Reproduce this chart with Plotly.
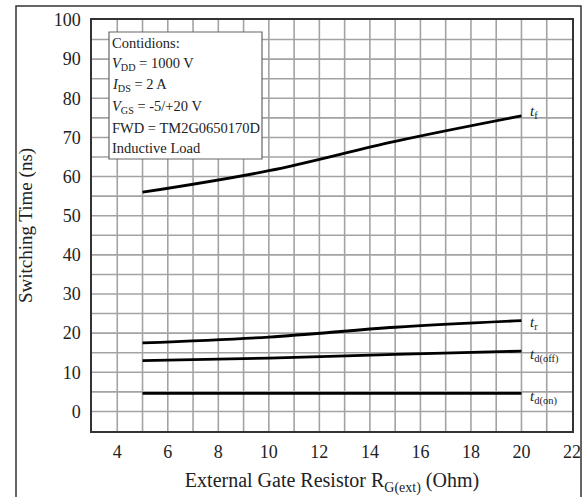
import plotly.graph_objects as go

# Data
rg = [5, 10, 15, 20]
t_f = [56, 61.5, 69, 75.5]
t_r = [17.5, 19, 21.5, 23.2]
t_doff = [13, 13.6, 14.6, 15.4]
t_don = [4.6, 4.6, 4.6, 4.6]
x_ticks = [4, 6, 8, 10, 12, 14, 16, 18, 20, 22]
y_ticks = [0, 10, 20, 30, 40, 50, 60, 70, 80, 90, 100]

W, H = 584, 497
L, R, T, B = 92, 12, 20, 66
PW, PH = W - L - R, H - T - B

def px(x):
    return (x - L) / PW

def py(y):
    return 1 - (y - T) / PH

FONT = "Liberation Serif, Times New Roman, serif"
GRID = "#a3a3a3"

fig = go.Figure()
for ys in [t_f, t_r, t_doff, t_don]:
    fig.add_trace(go.Scatter(x=rg, y=ys, mode="lines", line=dict(color="black", width=2.8, shape="spline"),
                             showlegend=False, hoverinfo="skip"))

fig.update_xaxes(range=[3, 22], tickvals=x_ticks, ticktext=[str(v) for v in x_ticks],
                 showgrid=False, showline=True, linecolor="#333", linewidth=1.5, mirror=True, zeroline=False,
                 ticks="", ticklabelstandoff=4, tickfont=dict(family=FONT, size=18, color="#222"),
                 title=dict(text="External Gate Resistor R<sub>G(ext)</sub> (Ohm)",
                            font=dict(family=FONT, size=20, color="#222"), standoff=12))
fig.update_yaxes(range=[-5, 100], tickvals=y_ticks, ticktext=[str(v) for v in y_ticks],
                 showgrid=False, showline=True, linecolor="#333", linewidth=1.5, mirror=True, zeroline=False,
                 ticks="", ticklabelstandoff=6, tickfont=dict(family=FONT, size=18, color="#222"),
                 title=dict(text="Switching Time (ns)", font=dict(family=FONT, size=19, color="#222"), standoff=16))

shapes = []
# vertical grid every 1, horizontal grid every 5
for xv in range(4, 22):
    shapes.append(dict(type="line", xref="x", yref="paper", x0=xv, x1=xv, y0=0, y1=1,
                       line=dict(color=GRID, width=1.6), layer="below"))
for yv in range(0, 100, 5):
    shapes.append(dict(type="line", xref="paper", yref="y", x0=0, x1=1, y0=yv, y1=yv,
                       line=dict(color=GRID, width=1.6), layer="below"))
# conditions box
shapes.append(dict(type="rect", xref="paper", yref="paper", x0=px(109), x1=px(262), y0=py(159), y1=py(32),
                   fillcolor="white", line=dict(color="#666", width=1.2), layer="above"))
# outer frame
shapes.append(dict(type="rect", xref="paper", yref="paper", x0=px(16), x1=px(581), y0=py(510), y1=py(6),
                   fillcolor="rgba(0,0,0,0)", line=dict(color="#333", width=1.5)))

annotations = []
cond_lines = [
    (43, "Contidions:"),
    (64, "<i>V</i><sub>DD</sub> = 1000 V"),
    (85, "<i>I</i><sub>DS</sub> = 2 A"),
    (107, "<i>V</i><sub>GS</sub> = -5/+20 V"),
    (128, "FWD = TM2G0650170D"),
    (148, "Inductive Load"),
]
for yy, txt in cond_lines:
    annotations.append(dict(xref="paper", yref="paper", x=px(110), y=py(yy), text=txt, showarrow=False,
                            xanchor="left", yanchor="middle", font=dict(family=FONT, size=14.5, color="#222")))

labels = [
    (t_f[-1], "<i>t</i><sub>f</sub>", 1.0),
    (t_r[-1], "<i>t</i><sub>r</sub>", -0.5),
    (t_doff[-1], "<i>t</i><sub>d(off)</sub>", -1.0),
    (t_don[-1], "<i>t</i><sub>d(on)</sub>", -1.0),
]
for yv, txt, dy in labels:
    annotations.append(dict(xref="x", yref="y", x=20.25, y=yv + dy, text=txt, showarrow=False,
                            xanchor="left", yanchor="middle", font=dict(family=FONT, size=15, color="#222")))

fig.update_layout(width=W, height=H, margin=dict(l=L, r=R, t=T, b=B, autoexpand=False),
                  plot_bgcolor="white", paper_bgcolor="white",
                  shapes=shapes, annotations=annotations)

fig.write_html("out.html")
